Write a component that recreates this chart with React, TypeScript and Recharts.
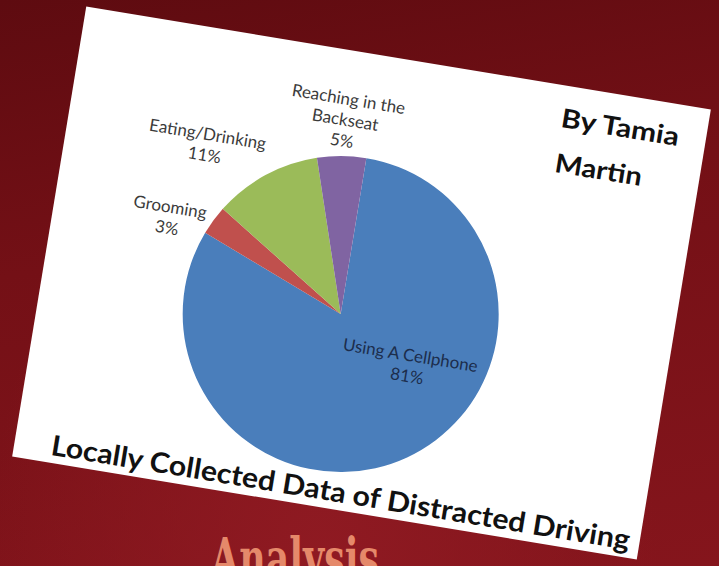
import { Cell, Pie, PieChart } from 'recharts'

// Distracted driving survey — pie on a tilted white card over a red backdrop.

const CATEGORIES = ['Using A Cellphone', 'Grooming', 'Eating/Drinking', 'Reaching in the\nBackseat']
const SHARES = [81, 3, 11, 5]
const COLORS = ['#4a7ebb', '#c0504d', '#9bbb59', '#8064a2']

const TITLE = 'Locally Collected Data of Distracted Driving'
const AUTHOR = ['By Tamia', 'Martin']
const FOOTER = 'Analysis'

// where each data label sits: angle shift from the slice middle, distance in outer radii
const LABEL_SHIFT = [
  { da: 28, rf: 0.54 },
  { da: 7, rf: 1.25 },
  { da: 10, rf: 1.37 },
  { da: -1, rf: 1.23 },
]

const RAD = Math.PI / 180
const CARD_W = 633
const CARD_H = 456
const FONT = 'Lato, "Open Sans", sans-serif'

function SliceLabel(props: any) {
  const { cx, cy, midAngle, outerRadius, index, percent, name } = props
  const s = LABEL_SHIFT[index]
  const a = (midAngle + s.da) * RAD
  const x = cx + outerRadius * s.rf * Math.cos(a)
  const y = cy - outerRadius * s.rf * Math.sin(a)
  const lines = [...String(name).split('\n'), `${Math.round(percent * 100)}%`]
  const lh = 21
  const y0 = y - ((lines.length - 1) * lh) / 2 + 6
  return (
    <text
      x={x}
      y={y0}
      textAnchor="middle"
      fontFamily={FONT}
      fontSize={17}
      fill={index === 0 ? '#1c2d4c' : '#3b3b3b'}
    >
      {lines.map((l, i) => (
        <tspan key={i} x={x} y={y0 + i * lh}>
          {l}
        </tspan>
      ))}
    </text>
  )
}

export default function App() {
  const data = CATEGORIES.map((name, i) => ({ name, value: SHARES[i] }))

  return (
    <div
      style={{
        position: 'fixed',
        left: 0,
        top: 0,
        width: 719,
        height: 566,
        overflow: 'hidden',
        background:
          'radial-gradient(ellipse at 45% 100%, #8f1a22 0%, rgba(143,26,34,0) 60%), linear-gradient(170deg, #5e0b10 0%, #741016 40%, #85151c 100%)',
      }}
    >
      <div
        style={{
          position: 'absolute',
          left: 45,
          top: 55,
          width: CARD_W,
          height: CARD_H,
          background: '#ffffff',
          transform: 'rotate(9.35deg)',
        }}
      >
        <PieChart width={CARD_W} height={CARD_H} margin={{ top: 0, right: 0, bottom: 0, left: 0 }}>
          <Pie
            data={data}
            dataKey="value"
            nameKey="name"
            cx={301}
            cy={262}
            outerRadius={158}
            startAngle={90}
            endAngle={-270}
            stroke="none"
            label={SliceLabel}
            labelLine={false}
            isAnimationActive={false}
          >
            {data.map((d, i) => (
              <Cell key={d.name} fill={COLORS[i]} />
            ))}
          </Pie>
        </PieChart>
        <svg
          width={CARD_W}
          height={CARD_H}
          style={{ position: 'absolute', left: 0, top: 0, pointerEvents: 'none' }}
        >
          <text
            x={37}
            y={448}
            fontFamily={FONT}
            fontWeight={700}
            fontSize={28}
            fill="#111"
            textLength={586}
            lengthAdjust="spacingAndGlyphs"
          >
            {TITLE}
          </text>
          <text x={487} y={41.5} fontFamily={FONT} fontWeight={700} fontSize={26} fill="#111" textLength={119} lengthAdjust="spacingAndGlyphs">
            {AUTHOR[0]}
          </text>
          <text x={488} y={87} fontFamily={FONT} fontWeight={700} fontSize={26} fill="#111" textLength={88} lengthAdjust="spacingAndGlyphs">
            {AUTHOR[1]}
          </text>
        </svg>
      </div>
      <svg width={719} height={566} style={{ position: 'absolute', left: 0, top: 0 }}>
        <text
          x={211}
          y={578}
          fontFamily='"DejaVu Serif", serif'
          fontWeight={700}
          fontSize={56}
          fill="#e5896a"
          textLength={168}
          lengthAdjust="spacingAndGlyphs"
        >
          {FOOTER}
        </text>
      </svg>
    </div>
  )
}
